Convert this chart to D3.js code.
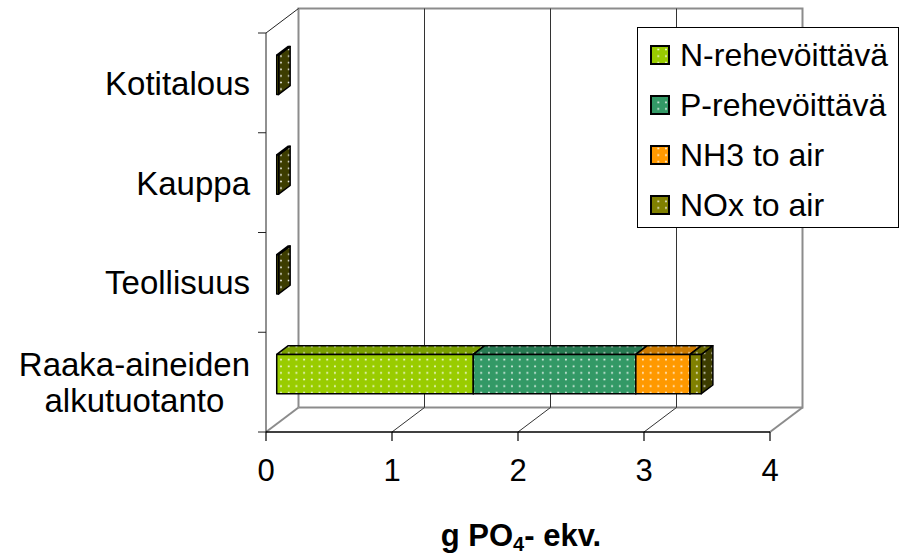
<!DOCTYPE html>
<html>
<head>
<meta charset="utf-8">
<script src="https://cdn.jsdelivr.net/npm/d3@7"></script>
<style>
  html, body { margin: 0; padding: 0; background: #fff; }
  svg { display: block; font-family: "Liberation Sans", Arial, sans-serif; }
</style>
</head>
<body>
<svg id="chart" width="906" height="556"></svg>
<script>
// Categories (top to bottom) and their label lines
const categories = ["Kotitalous", "Kauppa", "Teollisuus", "Raaka-aineiden alkutuotanto"];
const categoryLines = [["Kotitalous"], ["Kauppa"], ["Teollisuus"], ["Raaka-aineiden", "alkutuotanto"]];

// Series (stacked left to right)
const seriesNames = ["N-rehevöittävä", "P-rehevöittävä", "NH3 to air", "NOx to air"];
const nRehev = [0, 0, 0, 1.56];
const pRehev = [0, 0, 0, 1.29];
const nh3Air = [0, 0, 0, 0.43];
const noxAir = [0.015, 0.015, 0.015, 0.09];

const xTicks = [0, 1, 2, 3, 4];
const axisTitle = "g PO";
const axisTitleSub = "4";
const axisTitleEnd = "- ekv.";

// Face colours per series: front, top, side
const faceColors = [
  { front: "#99CC00", top: "#7A9F00", side: "#4D6600" },
  { front: "#339966", top: "#287A52", side: "#1A4D33" },
  { front: "#FF9900", top: "#CC7A00", side: "#804D00" },
  { front: "#808000", top: "#666600", side: "#3D3D00" }
];

const svg = d3.select("#chart");

// Oblique depth projection
const DX = 32.5, DY = -24.5;
const proj = (x, y, z) => [x + DX * z, y + DY * z];
const Z0 = 0.33, Z1 = 0.685;

const x = d3.scaleLinear().domain([0, 4]).range([266, 770]);
const y = d3.scaleBand().domain(categories).range([33, 432])
  .paddingInner(0.606).paddingOuter(0.303);
const yStep = d3.scaleBand().domain(categories).range([33, 432]);

// Dotted fill pattern
const defs = svg.append("defs");
const pat = defs.append("pattern").attr("id", "dots")
  .attr("patternUnits", "userSpaceOnUse")
  .attr("width", 7.7).attr("height", 6.6);
pat.append("circle").attr("cx", 3.8).attr("cy", 3.3).attr("r", 1.05)
  .attr("fill", "#fff").attr("opacity", 0.85);

const x0 = x(0), x4 = x(4), yTop = 33, yBot = 432;

// Walls and floor
const walls = svg.append("g").attr("fill", "none");
const gray = "#8c8c8c";
// back wall border
walls.append("path")
  .attr("d", d3.line()([proj(x0, yBot, 1), proj(x0, yTop, 1), proj(x4, yTop, 1), proj(x4, yBot, 1), proj(x0, yBot, 1)]))
  .attr("stroke", gray).attr("stroke-width", 2);
// floor side edges
walls.append("path").attr("d", d3.line()([[x0, yBot], proj(x0, yBot, 1)]))
  .attr("stroke", gray).attr("stroke-width", 2);
walls.append("path").attr("d", d3.line()([[x4, yBot], proj(x4, yBot, 1)]))
  .attr("stroke", gray).attr("stroke-width", 2);
// left wall top edge
walls.append("path").attr("d", d3.line()([[x0, yTop], proj(x0, yTop, 1)]))
  .attr("stroke", "#222").attr("stroke-width", 1);

// Gridlines on back wall and floor
xTicks.slice(1, -1).forEach(t => {
  walls.append("path")
    .attr("d", d3.line()([proj(x(t), yTop, 1), proj(x(t), yBot, 1), [x(t), yBot]]))
    .attr("stroke", "#333").attr("stroke-width", 1);
});

// Stacked bars
const rows = categories.map((c, i) => ({
  cat: c, v: [nRehev[i], pRehev[i], nh3Air[i], noxAir[i]]
}));
const stack = d3.stack().keys([0, 1, 2, 3]).value((d, k) => d.v[k]);
const stacked = stack(rows);

const bars = svg.append("g");
const poly = pts => "M" + pts.map(p => p.join(",")).join("L") + "Z";

rows.forEach((row, ri) => {
  const ya = y(row.cat), yb = ya + y.bandwidth();
  stacked.forEach((s, si) => {
    const [a, b] = s[ri];
    if (b - a <= 0) return;
    const xa = x(a), xb = x(b);
    const col = faceColors[si];
    const front = [proj(xa, ya, Z0), proj(xb, ya, Z0), proj(xb, yb, Z0), proj(xa, yb, Z0)];
    const top = [proj(xa, ya, Z0), proj(xb, ya, Z0), proj(xb, ya, Z1), proj(xa, ya, Z1)];
    const side = [proj(xb, ya, Z0), proj(xb, ya, Z1), proj(xb, yb, Z1), proj(xb, yb, Z0)];
    [[side, col.side], [top, col.top], [front, col.front]].forEach(([pts, fill]) => {
      bars.append("path").attr("d", poly(pts)).attr("fill", fill);
      bars.append("path").attr("d", poly(pts)).attr("fill", "url(#dots)")
        .attr("stroke", "#000").attr("stroke-width", 1.5).attr("stroke-linejoin", "round");
    });
  });
});

// Axes
const axes = svg.append("g");
axes.append("line").attr("x1", x0).attr("x2", x0).attr("y1", yTop).attr("y2", yBot)
  .attr("stroke", "#222").attr("stroke-width", 1);
axes.append("line").attr("x1", x0).attr("x2", x4).attr("y1", yBot).attr("y2", yBot)
  .attr("stroke", "#000").attr("stroke-width", 1.5);
// category ticks
categories.concat(["_end"]).forEach((c, i) => {
  const yy = i < categories.length ? yStep(c) : yBot;
  axes.append("line").attr("x1", x0 - 8).attr("x2", x0).attr("y1", yy).attr("y2", yy)
    .attr("stroke", "#222").attr("stroke-width", 1);
});
// value ticks and labels
xTicks.forEach(t => {
  axes.append("line").attr("x1", x(t)).attr("x2", x(t)).attr("y1", yBot).attr("y2", yBot + 9)
    .attr("stroke", "#000").attr("stroke-width", 1.2);
  axes.append("text").attr("x", x(t)).attr("y", 481).attr("text-anchor", "middle")
    .attr("font-size", 31).attr("fill", "#000").text(t);
});

// Category labels (multi-line blocks centred, right-aligned to the axis)
categoryLines.forEach((lines, i) => {
  const cy = yStep(categories[i]) + yStep.bandwidth() / 2;
  const g = axes.append("g");
  const lh = 36.5, fs = 33;
  const texts = lines.map((ln, li) => g.append("text")
    .attr("font-size", fs).attr("fill", "#000").attr("text-anchor", "middle")
    .attr("y", cy + 12 + (li - (lines.length - 1) / 2) * lh).text(ln));
  const w = d3.max(texts, t => t.node().getComputedTextLength());
  texts.forEach(t => t.attr("x", 250 - w / 2));
});

// Axis title with subscript
const title = svg.append("text").attr("x", 521).attr("y", 546).attr("text-anchor", "middle")
  .attr("font-size", 31).attr("font-weight", "bold").attr("fill", "#000");
title.append("tspan").text(axisTitle);
title.append("tspan").attr("font-size", 20).attr("dy", 5).text(axisTitleSub);
title.append("tspan").attr("dy", -5).text(axisTitleEnd);

// Legend
const legend = svg.append("g");
legend.append("rect").attr("x", 637.5).attr("y", 27.5).attr("width", 261).attr("height", 200)
  .attr("fill", "#fff").attr("stroke", "#000").attr("stroke-width", 1);
seriesNames.forEach((name, i) => {
  const cy = 55 + i * 50;
  legend.append("rect").attr("x", 651).attr("y", cy - 9).attr("width", 18).attr("height", 18)
    .attr("fill", faceColors[i].front);
  legend.append("rect").attr("x", 651).attr("y", cy - 9).attr("width", 18).attr("height", 18)
    .attr("fill", "url(#dots)").attr("stroke", "#000").attr("stroke-width", 2);
  legend.append("text").attr("x", 680).attr("y", cy + 11).attr("font-size", 32)
    .attr("fill", "#000").text(name);
});
</script>
</body>
</html>
